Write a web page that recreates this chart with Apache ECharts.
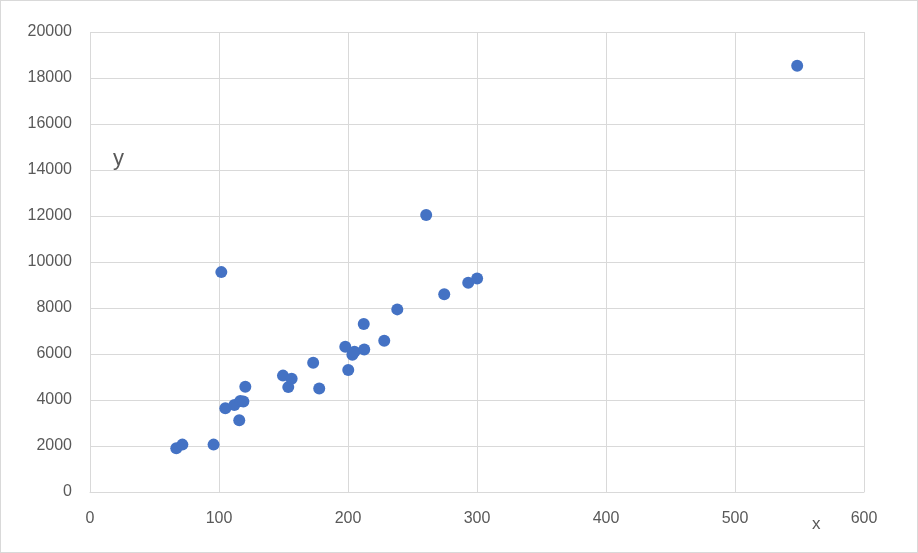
<!DOCTYPE html>
<html><head><meta charset="utf-8">
<script src="https://cdn.jsdelivr.net/npm/echarts@6/dist/echarts.min.js"></script>
<style>
html,body{margin:0;padding:0;background:#fff;}
#c{width:918px;height:553px;box-sizing:border-box;border:1px solid #d9d9d9;}
</style></head>
<body><div id="c"></div>
<script>
var xValues = [66.9, 71.6, 95.8, 101.8, 104.9, 111.9, 115.7, 116.5, 118.9, 120.4, 149.6, 153.7, 156.3, 173.0, 177.7, 197.9, 200.2, 203.4, 205.0, 212.2, 212.6, 228.1, 238.2, 260.6, 274.6, 293.2, 300.1, 548.2];
var yValues = [1900, 2060, 2060, 9560, 3640, 3780, 3120, 3960, 3930, 4580, 5060, 4560, 4920, 5620, 4500, 6320, 5300, 5970, 6100, 7300, 6200, 6580, 7940, 12040, 8600, 9100, 9280, 18530];
var xTicks = {min: 0, max: 600, interval: 100};
var yTicks = {min: 0, max: 20000, interval: 2000};

var data = xValues.map(function (x, i) { return [x, yValues[i]]; });
var chart = echarts.init(document.getElementById('c'), null, {renderer: 'canvas'});
var labelFont = {color: '#595959', fontSize: 16, fontFamily: 'Liberation Sans', formatter: function (v) { return String(v); }};
chart.setOption({
  animation: false,
  grid: {left: 89, right: 53, top: 31, bottom: 60, containLabel: false},
  xAxis: {
    type: 'value', min: xTicks.min, max: xTicks.max, interval: xTicks.interval,
    axisLine: {show: true, lineStyle: {color: '#d9d9d9'}},
    axisTick: {show: false},
    axisLabel: Object.assign({margin: 19}, labelFont),
    splitLine: {show: true, lineStyle: {color: '#d9d9d9'}}
  },
  yAxis: {
    type: 'value', min: yTicks.min, max: yTicks.max, interval: yTicks.interval,
    axisLine: {show: false},
    axisTick: {show: false},
    axisLabel: Object.assign({margin: 18}, labelFont),
    splitLine: {show: true, lineStyle: {color: '#d9d9d9'}}
  },
  graphic: [
    {type: 'text', left: 112, top: 147, style: {text: 'y', fill: '#595959', font: '22px "Liberation Sans"'}},
    {type: 'text', left: 811, top: 515, style: {text: 'x', fill: '#595959', font: '17px "Liberation Sans"'}}
  ],
  series: [{
    type: 'scatter', data: data, symbol: 'circle', symbolSize: 12,
    itemStyle: {color: '#4472C4', opacity: 1}
  }]
});
</script></body></html>
